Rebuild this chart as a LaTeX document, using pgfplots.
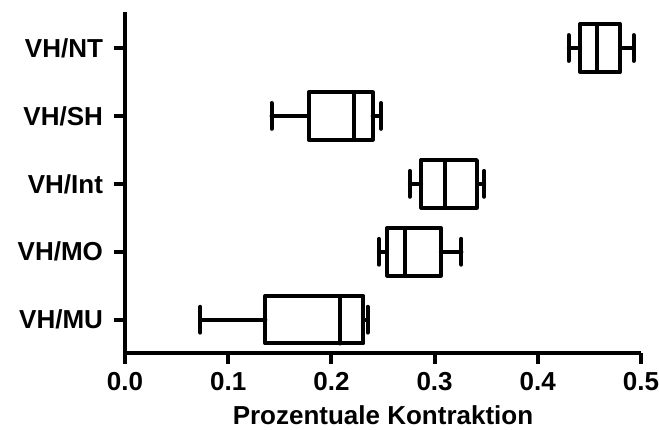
\documentclass[border=0pt]{standalone}
\usepackage{fontspec}
\setmainfont{Liberation Sans}
\usepackage{pgfplots}
\pgfplotsset{compat=1.18}
\usepgfplotslibrary{statistics}
\usetikzlibrary{calc}

\begin{document}
\begin{tikzpicture}
\begin{axis}[
  scale only axis, width=387pt, height=255.75pt,
  xmin=0, xmax=0.5, ymin=0.51, ymax=5.53,
  axis lines*=left,
  axis line style={line width=3pt},
  xtick={0,0.1,0.2,0.3,0.4,0.5},
  ytick={1,2,3,4,5},
  yticklabels={VH/MU,VH/MO,VH/Int,VH/SH,VH/NT},
  tick align=outside, major tick length=8pt,
  tick style={line width=3pt, black},
  xticklabel style={yshift=-3pt, /pgf/number format/.cd, fixed, fixed zerofill, precision=1},
  yticklabel style={xshift=-5pt},
  /pgf/number format/assume math mode=true,
  tick label style={font=\bfseries\fontsize{19.5}{22}\selectfont},
  label style={font=\bfseries\fontsize{19.5}{22}\selectfont},
  xlabel={Prozentuale Kontraktion},
  xlabel style={yshift=-4pt},
  boxplot/draw direction=x,
  boxplot/box extend=0.7,
  boxplot/whisker extend=0.38,
  every boxplot/.style={black, line width=3pt, line join=round, line cap=round},
]
% whisker, quartile, median, quartile, whisker
\addplot[boxplot prepared={draw position=5, lower whisker=0.430, lower quartile=0.441,
  median=0.457, upper quartile=0.480, upper whisker=0.493}] coordinates {};
\addplot[boxplot prepared={draw position=4, lower whisker=0.142, lower quartile=0.178,
  median=0.222, upper quartile=0.240, upper whisker=0.248}] coordinates {};
\addplot[boxplot prepared={draw position=3, lower whisker=0.276, lower quartile=0.287,
  median=0.310, upper quartile=0.341, upper whisker=0.348}] coordinates {};
\addplot[boxplot prepared={draw position=2, lower whisker=0.246, lower quartile=0.254,
  median=0.271, upper quartile=0.306, upper whisker=0.326}] coordinates {};
\addplot[boxplot prepared={draw position=1, lower whisker=0.073, lower quartile=0.136,
  median=0.208, upper quartile=0.231, upper whisker=0.235}] coordinates {};
\coordinate (bl) at (rel axis cs:0,0);
\coordinate (tr) at (rel axis cs:1,1);
\end{axis}
\pgfresetboundingbox
\useasboundingbox ($(bl)+(-93.75pt,-57.75pt)$) rectangle ($(tr)+(13.5pt,9pt)$);
\end{tikzpicture}
\end{document}
